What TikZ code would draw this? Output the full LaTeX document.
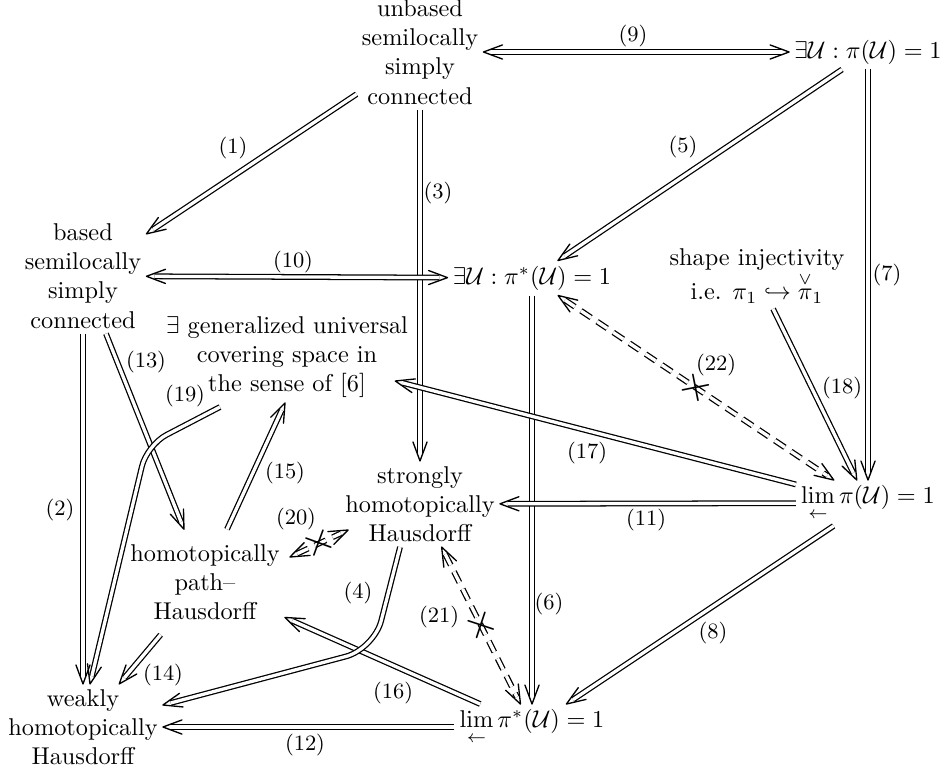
\documentclass[tikz,border=0pt]{standalone}
\usepackage{amsmath}
\usetikzlibrary{arrows.meta,calc}
\pgfdeclarearrow{
  name = XyIm,
  parameters = {\the\pgfarrowlength,\the\pgfarrowwidth},
  setup code = {
    \pgfarrowssettipend{0pt}
    \pgfarrowssetlineend{-3.3pt}
    \pgfarrowssetbackend{-\pgfarrowlength}
    \pgfarrowshullpoint{0pt}{0pt}
    \pgfarrowsupperhullpoint{-\pgfarrowlength}{.5\pgfarrowwidth}
    \pgfarrowssavethe\pgfarrowlength
    \pgfarrowssavethe\pgfarrowwidth
  },
  drawing code = {
    \pgfsetdash{}{+0pt}
    \pgfsetlinewidth{0.55pt}
    \pgfsetroundcap
    \pgfsetroundjoin
    \pgfpathmoveto{\pgfqpoint{-\pgfarrowlength}{.5\pgfarrowwidth}}
    \pgfpathlineto{\pgfpointorigin}
    \pgfpathlineto{\pgfqpoint{-\pgfarrowlength}{-.5\pgfarrowwidth}}
    \pgfusepathqstroke
  },
  defaults = {length=7.8pt, width=5.8pt}
}
\tikzset{
  box/.style={align=center, inner sep=2pt},
  lbl/.style={font=\small, inner sep=0pt},
  imp/.style={double, double distance=1.35pt, line width=0.52pt, arrows={-XyIm}},
  eqv/.style={double, double distance=1.35pt, line width=0.52pt, arrows={XyIm-XyIm}},
  dimp/.style={eqv, dash pattern=on 5pt off 3pt},
  nope/.style={font=\LARGE, sloped, inner sep=0pt}
}
\begin{document}
\begin{tikzpicture}[x=0.4115pt, y=-0.4115pt]
\useasboundingbox (0,0) rectangle (947,774);
% nodes
\node[box] (U) at (420,52) {unbased\\semilocally\\simply\\connected};
\node[box] (E1) at (868,52) {$\exists\mathcal{U}:\pi(\mathcal{U})=1$};
\node[box] (B) at (83,276) {based\\semilocally\\simply\\connected};
\node[box] (E2) at (532,278) {$\exists\mathcal{U}:\pi^*(\mathcal{U})=1$};
\node[box] (SI) at (757,276) {shape injectivity\\i.e. $\pi_1\hookrightarrow\overset{\vee}{\pi}_1$};
\node[box] (G) at (287,357) {$\exists$ generalized universal\\covering space in\\the sense of [6]};
\node[box] (S) at (420,504) {strongly\\homotopically\\Hausdorff};
\node[box] (L1) at (868,503) {$\lim\limits_{\leftarrow}\pi(\mathcal{U})=1$};
\node[box, inner ysep=6pt] (P) at (205,582) {homotopically\\path--\\Hausdorff};
\node[box] (W) at (83,727) {weakly\\homotopically\\Hausdorff};
\node[box] (L2) at (532,727) {$\lim\limits_{\leftarrow}\pi^*(\mathcal{U})=1$};
\coordinate (G6) at ($(G.east)+(-18,24)$);
% connectors
\draw[imp] (U) -- (B);
\draw[imp] (B) -- (W);
\draw[imp] (U) -- (S);
\draw[imp] (E1) -- (E2);
\draw[imp] (E2) -- (L2);
\draw[imp] (E1) -- (L1);
\draw[imp] (L1) -- (L2);
\draw[eqv] (U) -- (E1);
\draw[eqv] (B) -- (E2);
\draw[imp] (L1) -- (S);
\draw[imp] (L2) -- (W);
\draw[imp] (B) -- (P);
\draw[imp] (P) -- (W);
\draw[imp] ($(P.north)+(22,0)$) -- ($(G.south)+(-2,0)$);
\draw[imp] (L2) -- (P);
\draw[imp] (L1) -- (G6);
\draw[imp] (SI) -- (L1);
\draw[imp, rounded corners=9pt] ($(G.south)+(-67,4)$) -- (147,445) -- ($(W.north)+(7,0)$);
\draw[imp, rounded corners=12pt] ($(S.south)+(-20,0)$) -- (374,649) -- ($(W.east)+(0,-22)$);
\draw[dimp] ($(P.east)+(5,-25)$) -- ($(S.west)+(8,26)$) node[nope, pos=.5] (x20) {$\times$};
\draw[dimp] (S) -- (L2) node[nope, pos=.5] (x21) {$\times$};
\draw[dimp] (E2) -- (L1) node[nope, pos=.5] (x22) {$\times$};
% labels
\node[lbl] (l1) at (233,148) {(1)};
\node[lbl] (l2) at (60,510) {(2)};
\node[lbl] (l3) at (438,193) {(3)};
\node[lbl] (l4) at (358,593) {(4)};
\node[lbl] (l5) at (683,147) {(5)};
\node[lbl] (l6) at (549,604) {(6)};
\node[lbl] (l7) at (887,275) {(7)};
\node[lbl] (l8) at (713,633) {(8)};
\node[lbl] (l9) at (633,36) {(9)};
\node[lbl] (l10) at (293,262) {(10)};
\node[lbl] (l11) at (646,520) {(11)};
\node[lbl] (l12) at (305,745) {(12)};
\node[lbl] (l13) at (146,362) {(13)};
\node[lbl] (l14) at (163,675) {(14)};
\node[lbl] (l15) at (285,473) {(15)};
\node[lbl] (l16) at (393,693) {(16)};
\node[lbl] (l17) at (587,453) {(17)};
\node[lbl] (l18) at (842,388) {(18)};
\node[lbl] (l19) at (185,396) {(19)};
\node[lbl] (l20) at (296,519) {(20)};
\node[lbl] (l21) at (439,617) {(21)};
\node[lbl] (l22) at (716,365) {(22)};
\end{tikzpicture}
\end{document}
